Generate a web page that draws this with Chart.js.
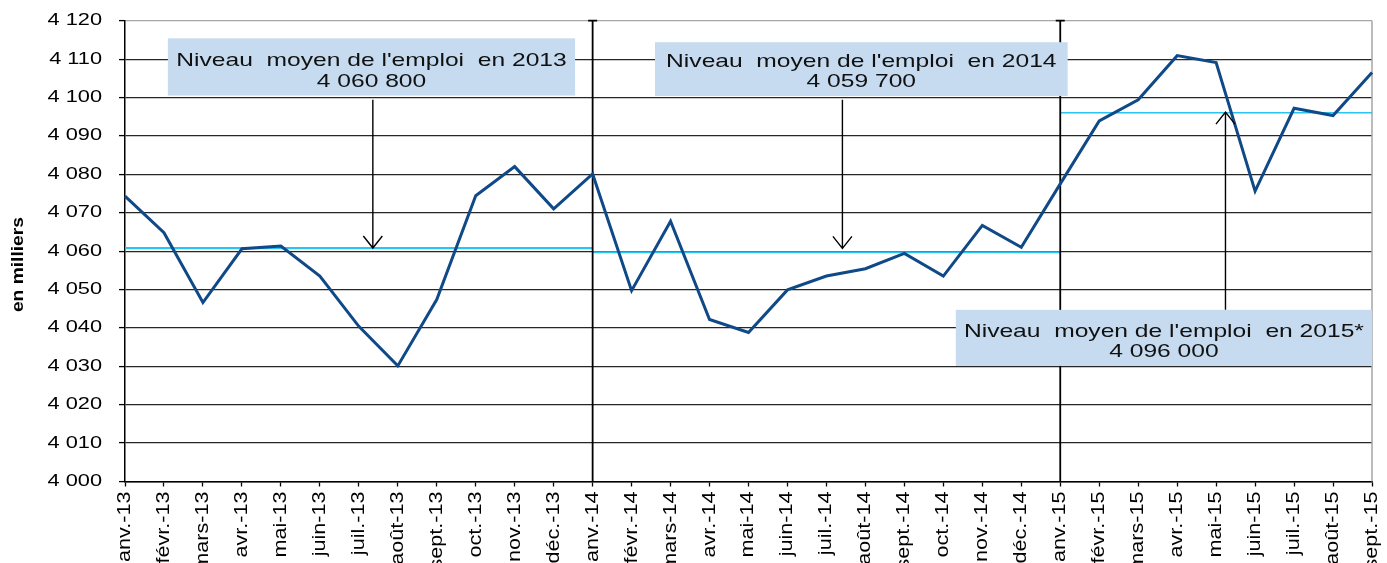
<!DOCTYPE html>
<html><head><meta charset="utf-8">
<script src="https://cdn.jsdelivr.net/npm/chart.js@4.4.1/dist/chart.umd.min.js"></script>
<style>html,body{margin:0;padding:0;background:#fff;overflow:hidden}canvas{display:block}</style>
</head><body>
<canvas id="c" width="1387" height="563" style="width:1387px;height:563px"></canvas>
<script>
// ---- data ----
const months = ['janv.-13','févr.-13','mars-13','avr.-13','mai-13','juin-13','juil.-13','août-13','sept.-13','oct.-13','nov.-13','déc.-13',
  'janv.-14','févr.-14','mars-14','avr.-14','mai-14','juin-14','juil.-14','août-14','sept.-14','oct.-14','nov.-14','déc.-14',
  'janv.-15','févr.-15','mars-15','avr.-15','mai-15','juin-15','juil.-15','août-15','sept.-15'];
const emploi = [4074.3, 4064.8, 4046.6, 4060.6, 4061.3, 4053.5, 4040.4, 4030.1, 4047.4, 4074.4, 4082.0, 4071.0,
  4080.1, 4049.7, 4067.8, 4042.2, 4038.8, 4049.9, 4053.5, 4055.4, 4059.4, 4053.5, 4066.7, 4061.0,
  4077.5, 4093.9, 4099.4, 4110.9, 4109.1, 4075.6, 4097.2, 4095.3, 4106.5];
const yMin = 4000, yMax = 4120, yStep = 10;
const moyenneAnnees = ['2013', '2014', '2015*'];
const moyenneValeurs = [4060.8, 4059.7, 4096.0];
const moyenneTextes = ['4 060 800', '4 059 700', '4 096 000'];
const moyenneDebut = ['janv.-13', 'janv.-14', 'janv.-15'];
const moyenneFin = ['janv.-14', 'janv.-15', 'sept.-15'];
const separateurs = ['janv.-14', 'janv.-15'];
const yTitre = 'en milliers';

// ---- annotation layout (data coordinates: x = month index, y = value) ----
const boxes = [
  {x0: 1.10, x1: 11.55, yTop: 4115.4, yBot: 4100.5},
  {x0: 13.60, x1: 24.19, yTop: 4114.4, yBot: 4100.4},
  {x0: 21.32, x1: 32.0, yTop: 4044.7, yBot: 4030.1}
];
const arrows = [
  {x: 6.36, from: 4099.4, to: 4060.8},
  {x: 18.41, from: 4099.4, to: 4060.7},
  {x: 28.24, from: 4044.7, to: 4096.2}
];

const fmt = v => String(Math.round(v)).replace(/\B(?=(\d{3})+(?!\d))/g, ' ');
const FONT = '"Liberation Sans", Arial, sans-serif';
const H_STRETCH = 1.36, R_STRETCH = 1.2;

const canvas = document.getElementById('c');
const ctx0 = canvas.getContext('2d');
// the reference renders its text wider than Arial: widen glyphs along the text direction
(function(ctx){
  const orig = ctx.fillText.bind(ctx);
  ctx.fillText = function(text, x, y, maxWidth){
    const t = ctx.getTransform();
    const s = Math.abs(t.b) > 1e-6 ? R_STRETCH : H_STRETCH;
    ctx.save();
    ctx.translate(x, y);
    ctx.scale(s, 1);
    if (maxWidth === undefined || maxWidth === null || isNaN(maxWidth)) orig(text, 0, 0);
    else orig(text, 0, 0, maxWidth / s);
    ctx.restore();
  };
})(ctx0);

const decor = {
  id: 'decor',
  beforeDatasetsDraw(chart){
    const {ctx, chartArea: a, scales: {x, y}} = chart;
    ctx.save();
    ctx.strokeStyle = '#a6a6a6'; ctx.lineWidth = 1.5;
    ctx.beginPath(); ctx.moveTo(a.right, a.top); ctx.lineTo(a.right, a.bottom); ctx.stroke();
    // yearly averages
    ctx.strokeStyle = '#2bc3f3';
    moyenneValeurs.forEach((v, i) => {
      const py = y.getPixelForValue(v);
      ctx.lineWidth = i < 2 ? 2.2 : 1.5;
      ctx.beginPath();
      ctx.moveTo(x.getPixelForValue(months.indexOf(moyenneDebut[i])), py);
      ctx.lineTo(x.getPixelForValue(months.indexOf(moyenneFin[i])), py);
      ctx.stroke();
    });
    // year separators
    ctx.strokeStyle = '#000'; ctx.lineWidth = 1.8;
    separateurs.forEach(m => {
      const px = x.getPixelForValue(months.indexOf(m));
      ctx.beginPath();
      ctx.moveTo(px, a.top); ctx.lineTo(px, a.bottom);
      ctx.moveTo(px - 4.5, a.top); ctx.lineTo(px + 4.5, a.top);
      ctx.stroke();
    });
    ctx.restore();
  },
  afterDatasetsDraw(chart){
    const {ctx, scales: {x, y}} = chart;
    ctx.save();
    boxes.forEach((b, i) => {
      const l = x.getPixelForValue(b.x0), r = x.getPixelForValue(b.x1);
      const t = y.getPixelForValue(b.yTop), bt = y.getPixelForValue(b.yBot);
      ctx.fillStyle = '#c6dbef';
      ctx.fillRect(l, t, r - l, bt - t);
      ctx.fillStyle = '#111';
      ctx.font = '18.1px ' + FONT;
      ctx.textAlign = 'center'; ctx.textBaseline = 'alphabetic';
      const cx = (l + r) / 2;
      ctx.fillText("Niveau  moyen de l'emploi  en " + moyenneAnnees[i], cx, bt - 29.4);
      ctx.fillText(moyenneTextes[i], cx, bt - 8.6);
    });
    ctx.strokeStyle = '#000'; ctx.lineWidth = 1.4;
    arrows.forEach(ar => {
      const px = x.getPixelForValue(ar.x);
      const p0 = y.getPixelForValue(ar.from), p1 = y.getPixelForValue(ar.to);
      const d = p1 > p0 ? -1 : 1;
      ctx.beginPath();
      ctx.moveTo(px, p0); ctx.lineTo(px, p1);
      ctx.moveTo(px - 9.5, p1 + d * 12); ctx.lineTo(px, p1); ctx.lineTo(px + 9.5, p1 + d * 12);
      ctx.stroke();
    });
    // y axis title
    ctx.translate(19, (y.top + y.bottom) / 2 + 13.5);
    ctx.rotate(-Math.PI / 2);
    ctx.fillStyle = '#000';
    ctx.font = 'bold 16px ' + FONT;
    ctx.textAlign = 'center'; ctx.textBaseline = 'middle';
    ctx.fillText(yTitre, 0, 0);
    ctx.restore();
  }
};

new Chart(ctx0, {
  type: 'line',
  data: {
    labels: months,
    datasets: [{
      label: 'Emploi',
      data: emploi,
      borderColor: '#104987',
      borderWidth: 3,
      pointRadius: 0,
      tension: 0,
      borderJoinStyle: 'miter',
      fill: false
    }]
  },
  options: {
    responsive: false,
    animation: false,
    devicePixelRatio: 1,
    layout: {padding: {left: 0, right: 15, top: 20.7, bottom: 0}},
    plugins: {legend: {display: false}, tooltip: {enabled: false}, title: {display: false}},
    scales: {
      x: {
        type: 'category',
        offset: false,
        grid: {display: true, drawOnChartArea: false, drawTicks: true, tickLength: 5, tickColor: '#000', tickWidth: 1.3},
        border: {display: true, color: '#000', width: 1.5},
        ticks: {autoSkip: false, minRotation: 90, maxRotation: 90, padding: 5, color: '#000', font: {family: FONT, size: 18}},
        afterFit: s => { s.height = 81.5; s.paddingLeft = 0; s.paddingRight = 0; }
      },
      y: {
        min: yMin, max: yMax,
        ticks: {stepSize: yStep, padding: 17, color: '#000', font: {family: FONT, size: 16}, callback: fmt},
        grid: {
          color: c => (c.tick && c.tick.value === yMax) ? '#a6a6a6' : '#262626',
          lineWidth: 1.2, tickLength: 6, tickColor: '#000', tickWidth: 1.3
        },
        border: {display: true, color: '#000', width: 1.5},
        afterFit: s => { s.width = 125; s.paddingTop = 0; s.paddingBottom = 0; }
      }
    }
  },
  plugins: [decor]
});
</script>
</body></html>
